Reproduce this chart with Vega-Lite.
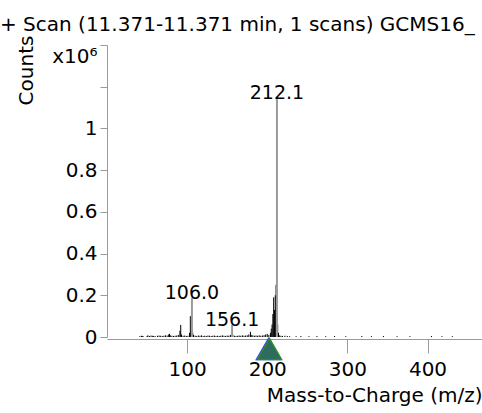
{
  "$schema": "https://vega.github.io/schema/vega-lite/v6.json",
  "width": 375,
  "height": 292,
  "autosize": "none",
  "padding": {"left": 107, "top": 45, "right": 0, "bottom": 76},
  "background": "white",
  "config": {"view": {"stroke": null}, "font": "DejaVu Sans"},
  "title": {"text": "+ Scan (11.371-11.371 min, 1 scans) GCMS16_", "anchor": "start", "frame": "group", "dx": -107, "dy": 4, "fontSize": 20, "fontWeight": "normal", "color": "black", "font": "DejaVu Sans"},
  "datasets": {
    "profile": [
      {"m": 41, "i": 0.004}, {"m": 43, "i": 0.006}, {"m": 44, "i": 0.005}, {"m": 45, "i": 0.004}, {"m": 50, "i": 0.005},
      {"m": 51, "i": 0.008}, {"m": 53, "i": 0.005}, {"m": 55, "i": 0.007}, {"m": 57, "i": 0.006}, {"m": 58, "i": 0.004},
      {"m": 60, "i": 0.005}, {"m": 63, "i": 0.006}, {"m": 65, "i": 0.007}, {"m": 67, "i": 0.006}, {"m": 69, "i": 0.005},
      {"m": 71, "i": 0.006}, {"m": 73, "i": 0.008}, {"m": 75, "i": 0.007}, {"m": 77, "i": 0.012}, {"m": 78, "i": 0.015},
      {"m": 79, "i": 0.008}, {"m": 81, "i": 0.006}, {"m": 83, "i": 0.005}, {"m": 85, "i": 0.006}, {"m": 87, "i": 0.007},
      {"m": 89, "i": 0.01}, {"m": 91, "i": 0.03}, {"m": 92, "i": 0.058}, {"m": 93, "i": 0.012}, {"m": 95, "i": 0.006},
      {"m": 97, "i": 0.007}, {"m": 99, "i": 0.005}, {"m": 101, "i": 0.006}, {"m": 103, "i": 0.02}, {"m": 104, "i": 0.1},
      {"m": 105, "i": 0.03}, {"m": 107, "i": 0.02}, {"m": 108, "i": 0.01}, {"m": 110, "i": 0.006}, {"m": 112, "i": 0.005},
      {"m": 114, "i": 0.007}, {"m": 116, "i": 0.006}, {"m": 118, "i": 0.008}, {"m": 120, "i": 0.005}, {"m": 122, "i": 0.006},
      {"m": 124, "i": 0.005}, {"m": 126, "i": 0.007}, {"m": 128, "i": 0.006}, {"m": 130, "i": 0.005}, {"m": 132, "i": 0.006},
      {"m": 134, "i": 0.007}, {"m": 136, "i": 0.005}, {"m": 138, "i": 0.006}, {"m": 140, "i": 0.005}, {"m": 142, "i": 0.006},
      {"m": 144, "i": 0.008}, {"m": 146, "i": 0.006}, {"m": 148, "i": 0.005}, {"m": 150, "i": 0.007}, {"m": 152, "i": 0.006},
      {"m": 154, "i": 0.01}, {"m": 157, "i": 0.01}, {"m": 159, "i": 0.006}, {"m": 161, "i": 0.005}, {"m": 163, "i": 0.006},
      {"m": 165, "i": 0.007}, {"m": 167, "i": 0.006}, {"m": 169, "i": 0.008}, {"m": 171, "i": 0.006}, {"m": 173, "i": 0.007},
      {"m": 175, "i": 0.008}, {"m": 177, "i": 0.012}, {"m": 179, "i": 0.025}, {"m": 180, "i": 0.01}, {"m": 182, "i": 0.008},
      {"m": 184, "i": 0.006}, {"m": 186, "i": 0.007}, {"m": 188, "i": 0.006}, {"m": 190, "i": 0.008}, {"m": 192, "i": 0.006},
      {"m": 194, "i": 0.007}, {"m": 196, "i": 0.009}, {"m": 198, "i": 0.012}, {"m": 200, "i": 0.015}, {"m": 202, "i": 0.01},
      {"m": 204, "i": 0.02}, {"m": 205, "i": 0.04}, {"m": 206, "i": 0.06}, {"m": 207, "i": 0.11}, {"m": 208, "i": 0.19},
      {"m": 209, "i": 0.13}, {"m": 210, "i": 0.2}, {"m": 211, "i": 0.25}, {"m": 213, "i": 0.06}, {"m": 214, "i": 0.02},
      {"m": 215, "i": 0.008}, {"m": 217, "i": 0.006}, {"m": 219, "i": 0.005}, {"m": 222, "i": 0.006}, {"m": 225, "i": 0.005},
      {"m": 228, "i": 0.004}, {"m": 236, "i": 0.004}, {"m": 242, "i": 0.005}, {"m": 252, "i": 0.004}, {"m": 262, "i": 0.005},
      {"m": 273, "i": 0.004}, {"m": 284, "i": 0.005}, {"m": 298, "i": 0.004}, {"m": 318, "i": 0.005}, {"m": 330, "i": 0.004},
      {"m": 345, "i": 0.005}, {"m": 362, "i": 0.004}, {"m": 378, "i": 0.004}, {"m": 405, "i": 0.005}, {"m": 418, "i": 0.004},
      {"m": 431, "i": 0.004}
    ],
    "peaks": [
      {"m": 106.0, "i": 0.187, "label": "106.0"},
      {"m": 156.1, "i": 0.058, "label": "156.1"},
      {"m": 212.1, "i": 1.146, "label": "212.1"}
    ],
    "markers": [
      {"m": 201.5, "i": 0, "kind": "a"},
      {"m": 202.8, "i": 0, "kind": "b"}
    ]
  },
  "layer": [
    {
      "data": {"name": "profile"},
      "mark": {"type": "rule", "color": "black", "strokeWidth": 1},
      "encoding": {
        "x": {
          "field": "m", "type": "quantitative",
          "scale": {"domain": [0, 468], "nice": false, "zero": false},
          "axis": {
            "values": [100, 200, 300, 400], "grid": false, "offset": 2,
            "domainColor": "#9a9a9a", "tickColor": "#9a9a9a", "tickSize": 14,
            "labelFontSize": 20, "labelColor": "black", "labelPadding": 6, "labelFlush": false,
            "title": "Mass-to-Charge (m/z)", "titleAnchor": "end", "titleFontSize": 20,
            "titleFontWeight": "normal", "titleColor": "black", "titlePadding": 6
          }
        },
        "y": {
          "field": "i", "type": "quantitative",
          "scale": {"domain": [0, 1.4], "nice": false},
          "axis": {
            "values": [0, 0.2, 0.4, 0.6, 0.8, 1, 1.2, 1.4], "grid": false,
            "labelExpr": "datum.value == 1.2 ? '' : (datum.value == 1.4 ? 'x10⁶' : format(datum.value, '.1~f'))",
            "labelOffset": {"condition": {"test": "datum.value == 1.4", "value": 11}, "value": 0},
            "domainColor": "#9a9a9a", "tickColor": "#9a9a9a", "tickSize": 7,
            "labelFontSize": 20, "labelColor": "black", "labelPadding": 3,
            "title": "Counts", "titleAngle": -90, "titleX": -81, "titleY": 25,
            "titleAlign": "center", "titleBaseline": "middle", "titleFontSize": 20,
            "titleFontWeight": "normal", "titleColor": "black"
          }
        },
        "y2": {"datum": 0}
      }
    },
    {
      "data": {"name": "peaks"},
      "mark": {"type": "rule", "color": "#9a9a9a", "strokeWidth": 2},
      "encoding": {
        "x": {"field": "m", "type": "quantitative"},
        "y": {"field": "i", "type": "quantitative"},
        "y2": {"datum": 0}
      }
    },
    {
      "data": {"name": "peaks"},
      "mark": {"type": "text", "fontSize": 19, "baseline": "alphabetic", "align": "center", "color": "black", "dy": 1},
      "encoding": {
        "x": {"field": "m", "type": "quantitative"},
        "y": {"field": "i", "type": "quantitative"},
        "text": {"field": "label"}
      }
    },
    {
      "data": {"name": "markers"},
      "mark": {"type": "point", "shape": "triangle-up", "size": 580, "filled": true, "fill": "#2f6b5e", "fillOpacity": 1, "strokeWidth": 1.5, "strokeOpacity": 1, "yOffset": 12, "clip": false},
      "encoding": {
        "x": {"field": "m", "type": "quantitative"},
        "y": {"field": "i", "type": "quantitative"},
        "stroke": {"field": "kind", "type": "nominal", "scale": {"domain": ["a", "b"], "range": ["#4040ff", "#2e8b2e"]}, "legend": null}
      }
    }
  ]
}
